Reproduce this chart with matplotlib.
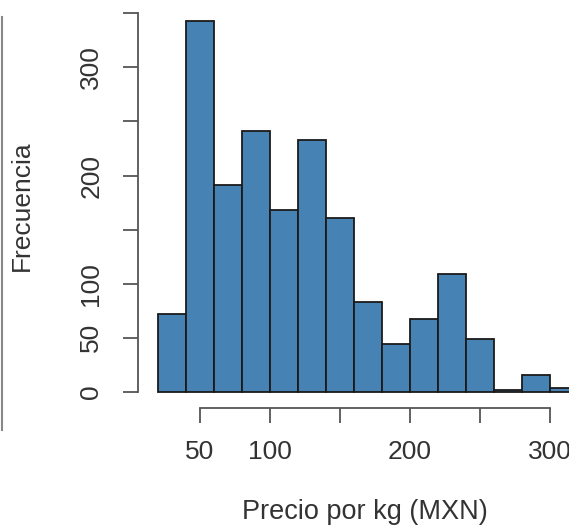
import numpy as np
import matplotlib
matplotlib.use("Agg")
import matplotlib.pyplot as plt
from matplotlib.lines import Line2D

# histogram bins (price per kg, MXN) and counts
bin_edges = np.arange(20, 321, 20)
counts = [72, 343, 191, 241, 168, 233, 161, 83, 44, 67, 109, 49, 2, 15, 3]
x_ticks = [50, 100, 150, 200, 250, 300]
y_ticks = [0, 50, 100, 150, 200, 250, 300, 350]
y_labels = ["0", "50", "100", "", "200", "", "300", ""]

plt.rcParams['font.family'] = ['Liberation Sans', 'DejaVu Sans']
txt = '#333333'

W, H = 569, 525
fig = plt.figure(figsize=(W / 100, H / 100), dpi=100)

# axes placed in pixels so that x: 0 -> px 130, 1.4 px/unit ; y: 0 -> px 391.7, 1.081 px/unit
left_px, right_px, top_px, bot_px = 138, 569, 0, 408.3
ax = fig.add_axes([left_px / W, (H - bot_px) / H, (right_px - left_px) / W, (bot_px - top_px) / H])
ax.set_xlim((left_px - 130) / 1.4, (right_px - 130) / 1.4)
ax.set_ylim(-(bot_px - 391.7) / 1.081, 391.7 / 1.081)

ax.bar(bin_edges[:-1], counts, width=np.diff(bin_edges), align='edge',
       color='#4682B4', edgecolor='#1a1a1a', linewidth=1.3, clip_on=True)

for s in ['top', 'right']:
    ax.spines[s].set_visible(False)
ax.spines['left'].set_bounds(0, 350)
ax.spines['bottom'].set_bounds(50, 300)
for s in ['left', 'bottom']:
    ax.spines[s].set_color('#555555')
    ax.spines[s].set_linewidth(1.3)

ax.set_xticks(x_ticks)
ax.set_xticklabels(["50", "100", "", "200", "", "300"])
ax.set_yticks(y_ticks)
ax.set_yticklabels(y_labels, rotation=90, va='center')
ax.tick_params(axis='both', length=11, width=1.3, color='#555555',
               labelsize=19, labelcolor=txt)
ax.tick_params(axis='x', pad=12)
ax.tick_params(axis='y', pad=14)

ax.set_xlabel("Precio por kg (MXN)", fontsize=19.5, color=txt)
ax.xaxis.set_label_coords((365 - left_px) / (right_px - left_px), -(512 - bot_px) / bot_px)
ax.xaxis.label.set_va('center')
ax.set_ylabel("Frecuencia", fontsize=19, color=txt)
ax.yaxis.set_label_coords((22 - left_px) / (right_px - left_px), (bot_px - 206) / bot_px)
ax.yaxis.label.set_va('center')

# gray frame line on the left edge of the screenshot
fig.add_artist(Line2D([1.5 / W, 1.5 / W], [(H - 430) / H, (H - 17) / H],
                      color='#888888', linewidth=1.5))

fig.savefig("out.png", dpi=100)
